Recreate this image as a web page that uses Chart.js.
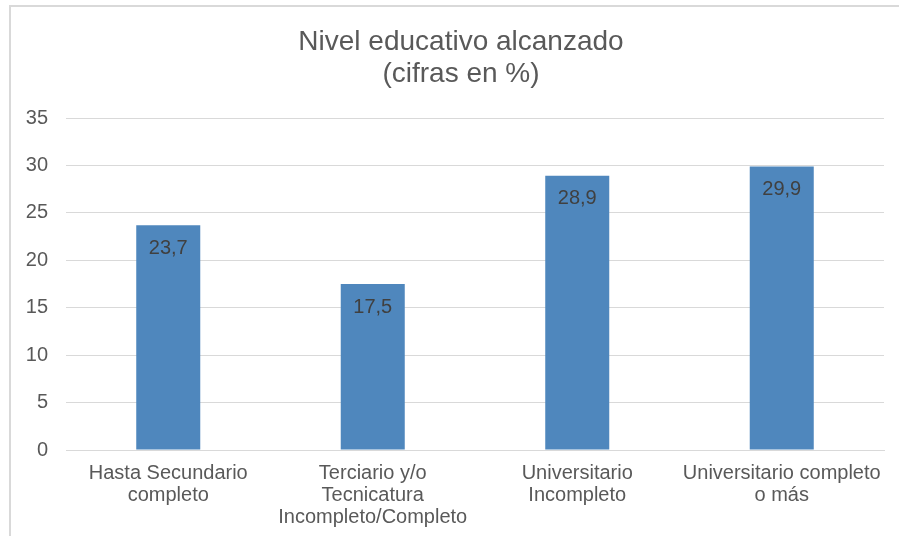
<!DOCTYPE html>
<html>
<head>
<meta charset="utf-8">
<script src="https://cdn.jsdelivr.net/npm/chart.js@4.4.1/dist/chart.umd.min.js"></script>
<style>
  html, body { margin: 0; padding: 0; background: #fff; }
  #wrap { position: relative; width: 899px; height: 541px; overflow: hidden; }
  #frame {
    position: absolute; left: 9px; top: 5px; width: 900px; height: 531px;
    border-left: 2px solid #d9d9d9; border-top: 2px solid #d9d9d9;
    box-sizing: border-box;
  }
  #box { position: absolute; left: 0; top: 0; width: 899px; height: 541px; }
</style>
</head>
<body>
<div id="wrap">
  <div id="frame"></div>
  <div id="box"><canvas id="nivelChart"></canvas></div>
</div>
<script>
const titleLines = ["Nivel educativo alcanzado", "(cifras en %)"];
const categories = [
  ["Hasta Secundario", "completo"],
  ["Terciario y/o", "Tecnicatura", "Incompleto/Completo"],
  ["Universitario", "Incompleto"],
  ["Universitario completo", "o más"],
];
const porcentajes = [23.7, 17.5, 28.9, 29.9];
const yTicks = [0, 5, 10, 15, 20, 25, 30, 35];

const fontName = "'Liberation Sans', Arial, sans-serif";

// título centrado sobre el marco del gráfico (no sobre el canvas)
const chartTitle = {
  id: "chartTitle",
  afterDraw(chart) {
    const ctx = chart.ctx;
    ctx.save();
    ctx.font = "28px " + fontName;
    ctx.fillStyle = "#595959";
    ctx.textAlign = "center";
    ctx.textBaseline = "middle";
    titleLines.forEach((t, i) => ctx.fillText(t, 461, 42 + i * 32));
    ctx.restore();
  },
};

// etiquetas de valor dentro de la barra, con coma decimal
const valueLabels = {
  id: "valueLabels",
  afterDatasetsDraw(chart) {
    const ctx = chart.ctx;
    const meta = chart.getDatasetMeta(0);
    ctx.save();
    ctx.font = "20px " + fontName;
    ctx.fillStyle = "#404040";
    ctx.textAlign = "center";
    ctx.textBaseline = "middle";
    meta.data.forEach((bar, i) => {
      const txt = porcentajes[i].toFixed(1).replace(".", ",");
      ctx.fillText(txt, bar.x, bar.y + 23);
    });
    ctx.restore();
  },
};

new Chart(document.getElementById("nivelChart"), {
  type: "bar",
  data: {
    labels: categories,
    datasets: [
      {
        data: porcentajes,
        backgroundColor: "#4f87bd",
        borderWidth: 0,
        categoryPercentage: 1,
        barPercentage: 0.313,
      },
    ],
  },
  options: {
    responsive: true,
    maintainAspectRatio: false,
    animation: false,
    layout: { padding: { left: 0, right: 15, top: 118, bottom: 0 } },
    plugins: {
      legend: { display: false },
      tooltip: { enabled: false },
      title: { display: false },
    },
    scales: {
      x: {
        grid: { display: false, drawTicks: false },
        border: { display: true, color: "#d9d9d9", width: 1 },
        ticks: {
          color: "#595959",
          font: { family: fontName, size: 20, lineHeight: 1.1 },
          padding: 12,
          maxRotation: 0,
          autoSkip: false,
        },
        afterFit(scale) { scale.height = 91; },
      },
      y: {
        min: 0,
        max: 35,
        afterBuildTicks(scale) {
          scale.ticks = yTicks.map((v) => ({ value: v }));
        },
        grid: { color: "#d9d9d9", lineWidth: 1, drawTicks: false },
        border: { display: false },
        ticks: {
          color: "#595959",
          font: { family: fontName, size: 20 },
          padding: 18,
        },
        afterFit(scale) { scale.width = 66; },
      },
    },
  },
  plugins: [valueLabels, chartTitle],
});
</script>
</body>
</html>
